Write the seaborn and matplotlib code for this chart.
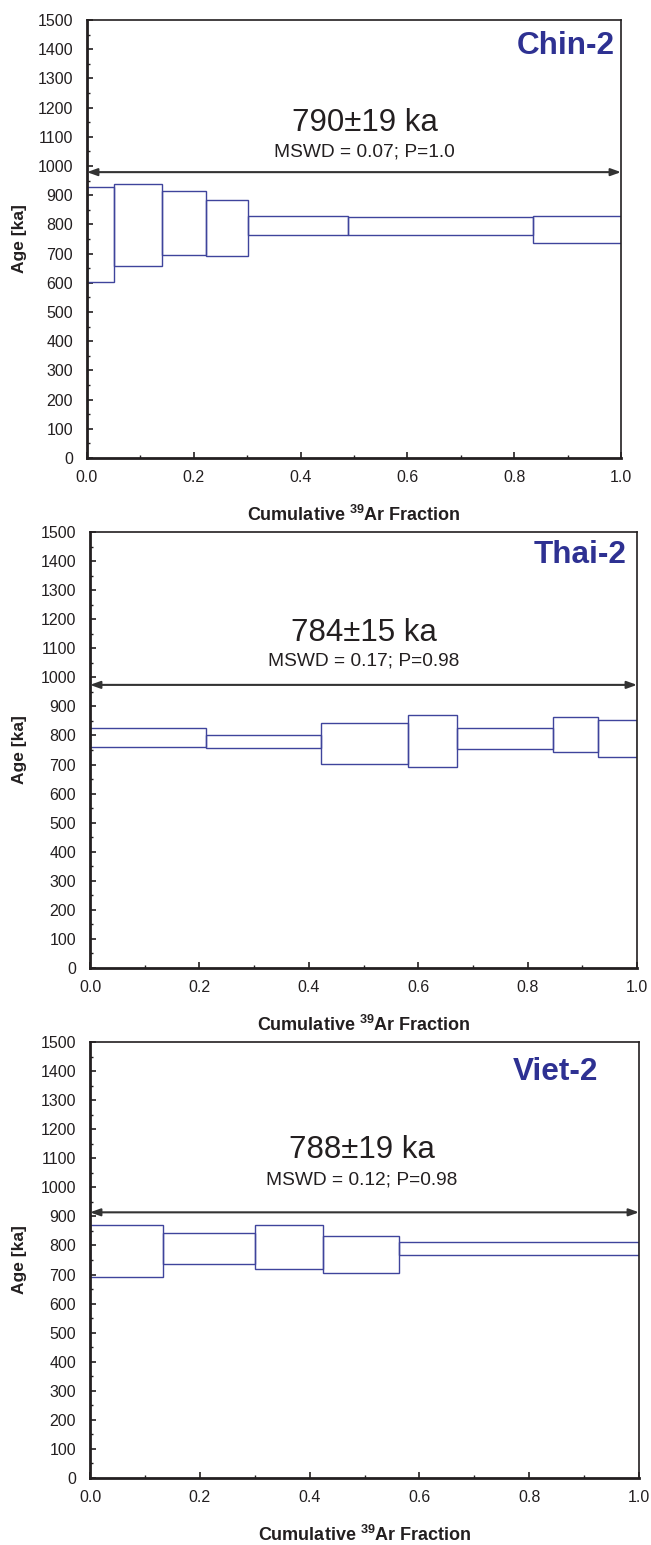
import numpy as np
import matplotlib
matplotlib.use("Agg")
import matplotlib.pyplot as plt
import seaborn as sns
from matplotlib.ticker import MultipleLocator

sns.set_theme(style="ticks")
plt.rcParams['font.family'] = ['Liberation Sans', 'DejaVu Sans']

# ---- data ----
samples = ["Chin-2", "Thai-2", "Viet-2"]
plateau_ages = ["790±19 ka", "784±15 ka", "788±19 ka"]
stats_text = ["MSWD = 0.07; P=1.0", "MSWD = 0.17; P=0.98", "MSWD = 0.12; P=0.98"]
plateau_level = [979, 974, 914]

chin_edges = [0.0, 0.050, 0.140, 0.222, 0.302, 0.489, 0.835, 1.0]
chin_lo = [602, 656, 695, 691, 763, 765, 737]
chin_hi = [927, 939, 915, 884, 828, 824, 830]

thai_edges = [0.0, 0.212, 0.423, 0.582, 0.671, 0.847, 0.928, 1.0]
thai_lo = [760, 756, 702, 690, 753, 743, 727]
thai_hi = [826, 803, 844, 871, 824, 863, 852]

viet_edges = [0.0, 0.133, 0.300, 0.425, 0.563, 1.0]
viet_lo = [693, 737, 720, 704, 767]
viet_hi = [869, 844, 869, 834, 812]

all_edges = [chin_edges, thai_edges, viet_edges]
all_lo = [chin_lo, thai_lo, viet_lo]
all_hi = [chin_hi, thai_hi, viet_hi]

# ---- layout (figure fractions) ----
W, H = 651, 1545
boxes_px = [(87, 20, 534, 438), (90, 532, 547, 436), (90, 1042, 549, 436)]
title_pos = [(0.52, 1147, 1048), (0.50, 1154, 1056), (0.495, 1128, 1025)]
label_pos = [(0.989, 1411), (0.98, 1421), (0.925, 1397)]

box_col = "#3f449c"
txt_col = "#231f20"
name_col = "#2e3192"

fig = plt.figure(figsize=(W / 100, H / 100), dpi=100)
for i in range(3):
    l, t, w, h = boxes_px[i]
    ax = fig.add_axes([l / W, 1 - (t + h) / H, w / W, h / H])
    e = np.array(all_edges[i])
    lo = np.array(all_lo[i]); hi = np.array(all_hi[i])
    ax.bar(e[:-1], hi - lo, width=np.diff(e), bottom=lo, align='edge',
           fill=False, edgecolor=box_col, linewidth=1.0)
    ax.annotate('', xy=(1.0, plateau_level[i]), xytext=(0.0, plateau_level[i]),
                arrowprops=dict(arrowstyle='<|-|>,head_length=0.5,head_width=0.18',
                                color='#333333', lw=1.5, shrinkA=0, shrinkB=0))
    tx, ty1, ty2 = title_pos[i]
    ax.text(tx, ty1, plateau_ages[i], ha='center', va='center', fontsize=22.5, color=txt_col)
    ax.text(tx, ty2, stats_text[i], ha='center', va='center', fontsize=13.8, color=txt_col)
    lx, ly = label_pos[i]
    ax.text(lx, ly, samples[i], ha='right', va='center', fontsize=22.7,
            fontweight='bold', color=name_col)

    ax.set_xlim(0, 1)
    ax.set_ylim(0, 1500)
    ax.xaxis.set_major_locator(MultipleLocator(0.2))
    ax.xaxis.set_minor_locator(MultipleLocator(0.1))
    ax.yaxis.set_major_locator(MultipleLocator(100))
    ax.yaxis.set_minor_locator(MultipleLocator(50))
    ax.xaxis.set_major_formatter(plt.FuncFormatter(lambda v, p: f"{v:.1f}"))
    ax.tick_params(axis='both', which='major', direction='in', length=4, width=1.2,
                   labelsize=11.5, labelcolor=txt_col, color=txt_col)
    ax.tick_params(axis='both', which='minor', direction='in', length=2.5, width=1.0,
                   color=txt_col)
    ax.tick_params(axis='x', which='major', pad=9)
    ax.tick_params(axis='y', which='major', pad=10)
    for s in ['left', 'bottom']:
        ax.spines[s].set_linewidth(2.0)
        ax.spines[s].set_color(txt_col)
    for s in ['top', 'right']:
        ax.spines[s].set_visible(True)
        ax.spines[s].set_linewidth(1.2)
        ax.spines[s].set_color(txt_col)
    ax.set_xlabel(r"Cumulative $\mathregular{^{39}}$Ar Fraction", fontsize=13,
                  fontweight='bold', color=txt_col)
    ax.set_ylabel("Age [ka]", fontsize=12.5, fontweight='bold', color=txt_col)
    ax.xaxis.set_label_coords(0.5, -47 / h)
    ax.yaxis.set_label_coords(-(l - 27) / w, 0.5)

fig.savefig("out.png", dpi=100)
